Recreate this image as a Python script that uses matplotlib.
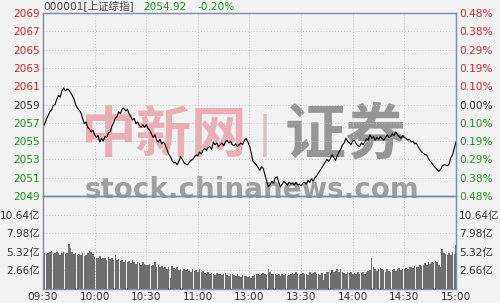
import matplotlib
matplotlib.use("Agg")
import matplotlib.pyplot as plt
import numpy as np

plt.rcParams['font.family'] = ['DejaVu Sans', 'Noto Sans CJK SC']

# one value per trading minute, 09:30..11:30 then 13:01..15:00
price = [
    2056.5, 2056.9, 2057.4, 2057.8, 2058.2, 2058.4, 2058.9, 2059.0, 2059.6, 2060.0,
    2059.8, 2060.5, 2060.8, 2060.5, 2060.7, 2060.6, 2060.3, 2060.0, 2059.6, 2059.0,
    2058.6, 2058.4, 2058.1, 2057.5, 2056.9, 2057.1, 2056.5, 2056.3, 2056.0, 2056.2,
    2055.7, 2055.4, 2055.6, 2054.9, 2055.3, 2055.0, 2055.5, 2055.4, 2055.9, 2056.0,
    2056.6, 2057.0, 2057.5, 2057.7, 2058.2, 2058.0, 2058.5, 2058.6, 2058.3, 2058.5,
    2058.0, 2057.7, 2057.3, 2057.5, 2056.9, 2057.1, 2056.7, 2056.5, 2056.8, 2056.5,
    2056.8, 2056.4, 2056.2, 2055.8, 2055.4, 2055.7, 2055.1, 2054.9, 2055.2, 2054.7,
    2054.9, 2054.6, 2054.1, 2053.6, 2053.3, 2052.9, 2052.6, 2052.7, 2052.4, 2052.8,
    2053.3, 2053.0, 2052.6, 2052.5, 2052.4, 2052.7, 2052.9, 2053.0, 2053.3, 2053.5,
    2053.4, 2053.8, 2053.6, 2054.0, 2054.2, 2054.0, 2054.3, 2054.4, 2054.1, 2054.9,
    2054.6, 2054.8, 2054.4, 2054.6, 2054.8, 2054.5, 2054.9, 2055.1, 2054.8, 2055.0,
    2054.6, 2054.5, 2054.7, 2054.4, 2054.6, 2054.8, 2054.6, 2055.1, 2055.3, 2054.9,
    2054.5, 2053.7, 2052.8, 2052.6, 2052.4, 2052.1, 2051.8, 2052.2, 2052.0, 2051.3,
    2050.6, 2050.0, 2050.3, 2050.6, 2050.4, 2051.0, 2051.1, 2050.5, 2050.0, 2050.3,
    2050.6, 2050.4, 2050.2, 2050.5, 2050.3, 2050.4, 2050.2, 2050.5, 2050.2, 2050.3,
    2050.1, 2050.4, 2050.5, 2050.3, 2050.7, 2050.5, 2050.9, 2050.6, 2051.0, 2051.2,
    2051.5, 2051.8, 2052.1, 2052.4, 2052.7, 2053.0, 2052.8, 2053.1, 2053.5, 2053.2,
    2052.9, 2053.4, 2053.8, 2054.1, 2054.6, 2054.8, 2055.3, 2055.0, 2054.8, 2054.6,
    2055.0, 2055.1, 2054.7, 2054.5, 2054.4, 2054.8, 2054.6, 2054.9, 2055.3, 2055.1,
    2055.7, 2055.3, 2055.5, 2055.1, 2055.4, 2055.2, 2055.5, 2055.3, 2055.1, 2055.4,
    2055.7, 2055.4, 2055.5, 2055.8, 2055.6, 2056.0, 2055.7, 2055.5, 2055.3, 2055.6,
    2055.4, 2055.3, 2055.1, 2055.2, 2054.9, 2055.0, 2054.7, 2054.8, 2054.4, 2054.1,
    2053.8, 2053.7, 2053.5, 2053.5, 2053.1, 2052.8, 2052.6, 2052.3, 2052.1, 2051.9,
    2051.7, 2051.9, 2052.3, 2052.4, 2052.4, 2052.3, 2052.5, 2053.2, 2053.5, 2054.2,
    2054.92,
]

# volume, 亿
volume = [
    5.9, 5.2, 5.0, 5.1, 5.3, 5.4, 5.0, 5.2, 5.3, 5.1, 4.9, 5.2, 5.3, 5.0, 5.2,
    6.4, 5.8, 5.3, 5.0, 5.1, 4.9, 5.0, 4.8, 5.1, 4.7, 4.9, 5.2, 5.4, 5.3, 5.0,
    4.6, 4.4, 4.5, 4.7, 4.3, 4.5, 4.4, 4.2, 4.6, 4.3, 4.4, 4.1, 4.8, 4.2, 4.3,
    4.0, 4.2, 3.9, 4.1, 3.8, 4.0, 3.7, 4.1, 3.9, 3.6, 3.8, 3.7, 3.5, 3.9, 3.6,
    3.5, 3.4, 3.6, 3.3, 3.5, 3.9, 3.2, 3.4, 3.1, 3.3, 3.0, 3.2, 2.9, 3.1, 1.6,
    3.3, 3.0, 2.8, 3.1, 2.7, 2.9, 2.6, 2.8, 2.7, 2.9, 2.6, 2.5, 2.8, 2.6, 2.7,
    2.5, 2.8, 2.4, 2.6, 2.3, 2.2, 2.4, 2.1, 2.3, 2.2, 2.0, 2.3, 2.1, 2.2, 2.0,
    2.1, 2.3, 2.0, 1.9, 2.2, 2.1, 2.0, 1.8, 2.1, 1.9, 1.7, 2.0, 1.8, 1.9, 1.7, 1.8,
    1.6, 1.9, 2.0, 2.1, 2.2, 2.0, 2.1, 2.3, 2.2, 2.0, 2.8, 2.5, 2.2, 2.1, 2.2,
    2.0, 2.1, 1.9, 2.2, 2.0, 2.1, 1.9, 2.0, 2.2, 2.3, 2.1, 2.4, 2.2, 2.0, 2.1,
    2.3, 2.1, 2.2, 2.0, 2.4, 2.2, 2.3, 2.5, 2.1, 2.2, 2.0, 2.3, 1.3, 2.2, 2.4,
    2.5, 2.3, 2.7, 2.4, 2.6, 2.8, 2.5, 2.9, 2.4, 2.3, 2.2, 2.5, 2.3, 2.4, 2.2,
    2.3, 2.1, 2.4, 2.2, 2.3, 2.5, 2.2, 2.4, 2.6, 2.7, 4.4, 3.2, 2.8, 2.6, 2.9,
    3.0, 2.8, 2.7, 2.5, 2.8, 2.6, 2.4, 2.7, 2.9, 2.6, 2.8, 3.0, 2.7, 2.9, 2.8,
    3.0, 2.9, 3.1, 3.2, 3.0, 3.3, 3.1, 3.2, 3.4, 3.3, 3.5, 3.7, 3.4, 3.8, 3.6,
    3.9, 3.7, 4.0, 3.8, 3.5, 3.2, 5.7, 5.1, 5.0, 4.9, 5.1, 4.8, 5.3, 5.0, 6.3,
]

time_labels = ['09:30', '10:00', '10:30', '11:00', '13:00', '13:30', '14:00', '14:30', '15:00']
price_ticks = [2049, 2051, 2053, 2055, 2057, 2059, 2061, 2063, 2065, 2067, 2069]
pct_labels = ['0.48%', '0.38%', '0.29%', '0.19%', '0.10%', '0.00%',
              '0.10%', '0.19%', '0.29%', '0.38%', '0.48%']
vol_ticks = [2.66, 5.32, 7.98, 10.64]
vol_labels = ['2.66亿', '5.32亿', '7.98亿', '10.64亿']
prev_close = 2059

bg = '#f2f2f2'
frame = '#7890a8'
red = '#dd1f26'
green = '#1c931c'
grid = '#c4c4c4'
fs = 7.6

fig = plt.figure(figsize=(5, 3.03), dpi=100, facecolor=bg)
ax = fig.add_axes([0.086, 0.3531, 0.826, 0.6039], facecolor='none')
axv = fig.add_axes([0.086, 0.0462, 0.826, 0.3069], facecolor='none')

x = np.arange(len(price))
tick_pos = np.arange(0, 241, 30)

# price panel
ax.plot(x, price, color='black', lw=0.8, zorder=3)
ax.set_xlim(0, 240)
ax.set_ylim(2049, 2069)
ax.set_yticks(price_ticks)
ax.set_xticks(tick_pos)
ax.set_xticklabels([])
ax.tick_params(length=0, labelsize=fs, pad=2)
ax.grid(True, color=grid, ls=(0, (1, 2)), lw=0.7, zorder=0)
for t, lab in zip(price_ticks, ax.get_yticklabels()):
    lab.set_color(red if t > prev_close else (green if t < prev_close else '#333333'))

axr = ax.twinx()
axr.set_ylim(2049, 2069)
axr.set_yticks(price_ticks)
axr.set_yticklabels(pct_labels)
axr.tick_params(length=0, labelsize=fs, pad=2)
for t, lab in zip(price_ticks, axr.get_yticklabels()):
    lab.set_color(red if t > prev_close else (green if t < prev_close else '#333333'))

# volume panel
axv.bar(x, volume, width=0.9, color='#6e6e6e', edgecolor='none', zorder=2)
axv.set_xlim(0, 240)
axv.set_ylim(0, 13.3)
axv.set_yticks(vol_ticks)
axv.set_yticklabels(vol_labels)
axv.set_xticks(tick_pos)
axv.set_xticklabels(time_labels)
axv.tick_params(length=0, labelsize=fs, pad=2, colors='#333333')
axv.grid(True, color=grid, ls=(0, (1, 2)), lw=0.7, zorder=0)

axvr = axv.twinx()
axvr.set_ylim(0, 13.3)
axvr.set_yticks(vol_ticks)
axvr.set_yticklabels(vol_labels)
axvr.tick_params(length=0, labelsize=fs, pad=2, colors='#333333')

for a in (ax, axr, axv, axvr):
    for s in a.spines.values():
        s.set_color(frame)
        s.set_linewidth(0.9)

# watermark
ax.text(0.09, 0.33, '中新网', transform=ax.transAxes, fontsize=40, fontweight='bold',
        family='Noto Sans CJK SC', color='#e88a96', alpha=0.65, zorder=1, va='center')
ax.text(0.537, 0.33, '|', transform=ax.transAxes, fontsize=30,
        family='DejaVu Sans', color='#c9a6a6', alpha=0.6, zorder=1, va='center', ha='center')
ax.text(0.586, 0.33, '证券', transform=ax.transAxes, fontsize=44, fontweight='bold',
        family='Noto Sans CJK SC', color='#868686', alpha=0.85, zorder=1, va='center')
ax.text(0.1, 0.035, 'stock.chinanews.com', transform=ax.transAxes, fontsize=20,
        fontweight='bold', color='#8a8a8a', alpha=0.8, zorder=1, va='center', clip_on=False)

# header
fig.text(0.086, 1 - 6.5 / 303, '000001[上证综指]', fontsize=fs, color='#444444', va='center')
fig.text(0.286, 1 - 6.5 / 303, '2054.92', fontsize=fs, color=green, va='center')
fig.text(0.394, 1 - 6.5 / 303, '-0.20%', fontsize=fs, color=green, va='center')

fig.savefig('out.png', dpi=100, facecolor=bg)
